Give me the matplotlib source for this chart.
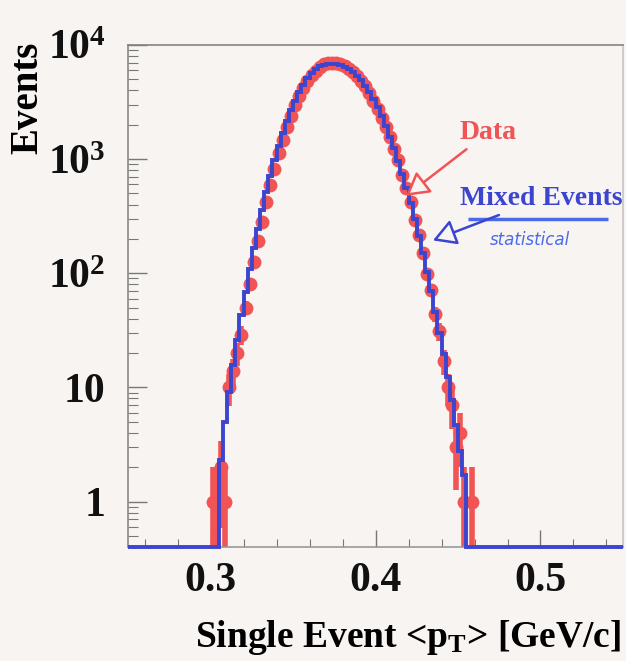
import numpy as np
import matplotlib
matplotlib.use('Agg')
import matplotlib.pyplot as plt
from matplotlib.ticker import FixedLocator, AutoMinorLocator, LogLocator, NullFormatter

plt.rcParams['font.family'] = 'Liberation Serif'
plt.rcParams['font.weight'] = 'bold'
plt.rcParams['axes.labelweight'] = 'bold'
plt.rcParams['mathtext.fontset'] = 'custom'
plt.rcParams['mathtext.rm'] = 'Liberation Serif:bold'
plt.rcParams['mathtext.bf'] = 'Liberation Serif:bold'
plt.rcParams['mathtext.it'] = 'Liberation Serif:bold:italic'
plt.rcParams['mathtext.default'] = 'bf'

# histogram binning (GeV/c)
bin_lo, bin_hi, n_bins = 0.30, 0.46, 64

# data counts per bin
data_counts = [1, 1, 2, 1, 10, 14, 20, 29, 50, 80,
               125, 190, 280, 420, 590, 820, 1120, 1480, 1900, 2400,
               2950, 3560, 4200, 4850, 5450, 5950, 6400, 6750, 6950, 7000,
               6900, 6750, 6500, 6200, 5800, 5300, 4850, 4350, 3800, 3250,
               2750, 2300, 1900, 1560, 1230, 980, 730, 560, 420, 295,
               215, 150, 98, 72, 44, 31, 17, 10, 7, 3,
               4, 1, 0, 1]

# mixed events, normalised
mixed_counts = [0, 0, 2.3, 5, 9.2, 15.7, 26, 43, 69, 108,
                165, 246, 360, 515, 715, 977, 1305, 1695, 2155, 2685,
                3260, 3875, 4500, 5110, 5660, 6130, 6495, 6720, 6800, 6850,
                6820, 6650, 6450, 6150, 5800, 5350, 4900, 4400, 3880, 3370,
                2860, 2385, 1955, 1575, 1245, 970, 741, 557, 411, 299,
                213, 149, 103, 70, 46, 30, 19.6, 12.4, 7.7, 4.7,
                2.8, 1.7, 0, 0]

x_range = (0.25, 0.55)
y_range = (0.4, 1e4)
ytick_vals = [1, 10, 100, 1000, 10000]
ytick_labels = ['1', '10', '$10^{2}$', '$10^{3}$', '$10^{4}$']
xtick_vals = [0.3, 0.4, 0.5]

red = '#f05454'
blue = '#3b45d0'
bg = '#f8f4f2'

edges = np.linspace(bin_lo, bin_hi, n_bins + 1)
centers = 0.5 * (edges[:-1] + edges[1:])
data = np.array(data_counts, dtype=float)
mixed = np.array(mixed_counts, dtype=float)

fig = plt.figure(figsize=(6.26, 6.61), dpi=100, facecolor=bg)
ax = fig.add_axes([0.2045, 0.1725, 0.7907, 0.7595], facecolor=bg)

# data points with sqrt(N) errors
m = data > 0
ax.errorbar(centers[m], data[m], yerr=np.sqrt(data[m]), fmt='o', color=red,
            ms=10, elinewidth=4, capsize=0, mew=0, zorder=2)

# mixed events histogram over the full x range
full_edges = np.concatenate([[x_range[0]], edges, [x_range[1]]])
full_vals = np.concatenate([[0], mixed, [0]])
full_vals = np.where(full_vals > 0, full_vals, y_range[0])
ax.stairs(full_vals, full_edges, color=blue, lw=2.8, baseline=None,
          zorder=3, clip_on=False)

ax.set_yscale('log')
ax.set_xlim(*x_range)
ax.set_ylim(*y_range)

ax.yaxis.set_major_locator(FixedLocator(ytick_vals))
ax.set_yticklabels(ytick_labels)
ax.yaxis.set_minor_locator(LogLocator(base=10, subs=np.arange(2, 10)))
ax.yaxis.set_minor_formatter(NullFormatter())
ax.xaxis.set_major_locator(FixedLocator(xtick_vals))
ax.set_xticklabels(['0.3', '0.4', '0.5'])
ax.xaxis.set_minor_locator(AutoMinorLocator(5))

ax.tick_params(which='both', direction='in', colors='#777777',
               labelcolor='#111111', labelsize=30)
ax.tick_params(axis='y', which='major', length=14, width=1, pad=16)
ax.tick_params(axis='y', which='minor', length=7, width=0.8)
ax.tick_params(axis='x', which='major', length=12, width=1, pad=11)
ax.tick_params(axis='x', which='minor', length=6, width=0.8)

for side, col in [('left', '#888888'), ('top', '#8a8080'),
                  ('right', '#c8c4c4'), ('bottom', '#999999')]:
    ax.spines[side].set_color(col)
    ax.spines[side].set_linewidth(1.2)

ax.set_xlabel('Single Event <p$_{T}$> [GeV/c]', fontsize=27)
ax.xaxis.set_label_coords(0.997, -0.142)
ax.xaxis.label.set_ha('right')
ax.set_ylabel('Events', fontsize=28)
ax.yaxis.set_label_coords(-0.165, 0.895)

# annotations
ax.annotate('Data', xy=(0.4185, 476), xytext=(0.4512, 1718),
            color=red, fontsize=20, ha='left', va='center',
            arrowprops=dict(arrowstyle='-|>,head_length=0.7,head_width=0.4',
                            color=red, fc=bg, lw=1.8, shrinkA=2, shrinkB=0))
ax.annotate('Mixed Events', xy=(0.4348, 194), xytext=(0.4512, 449),
            color=blue, fontsize=20, ha='left', va='center',
            arrowprops=dict(arrowstyle='-|>,head_length=0.7,head_width=0.4',
                            color=blue, fc=bg, lw=1.8, shrinkA=2, shrinkB=0))
ax.plot([0.4561, 0.5409], [301, 301], color='#4a6ae8', lw=2.5,
        solid_capstyle='butt')
ax.text(0.4936, 195, 'statistical', color='#4a6ae8', fontsize=12,
        style='italic', fontweight='normal', family='DejaVu Sans',
        ha='center', va='center')

plt.savefig('out.png', dpi=100, facecolor=bg)
